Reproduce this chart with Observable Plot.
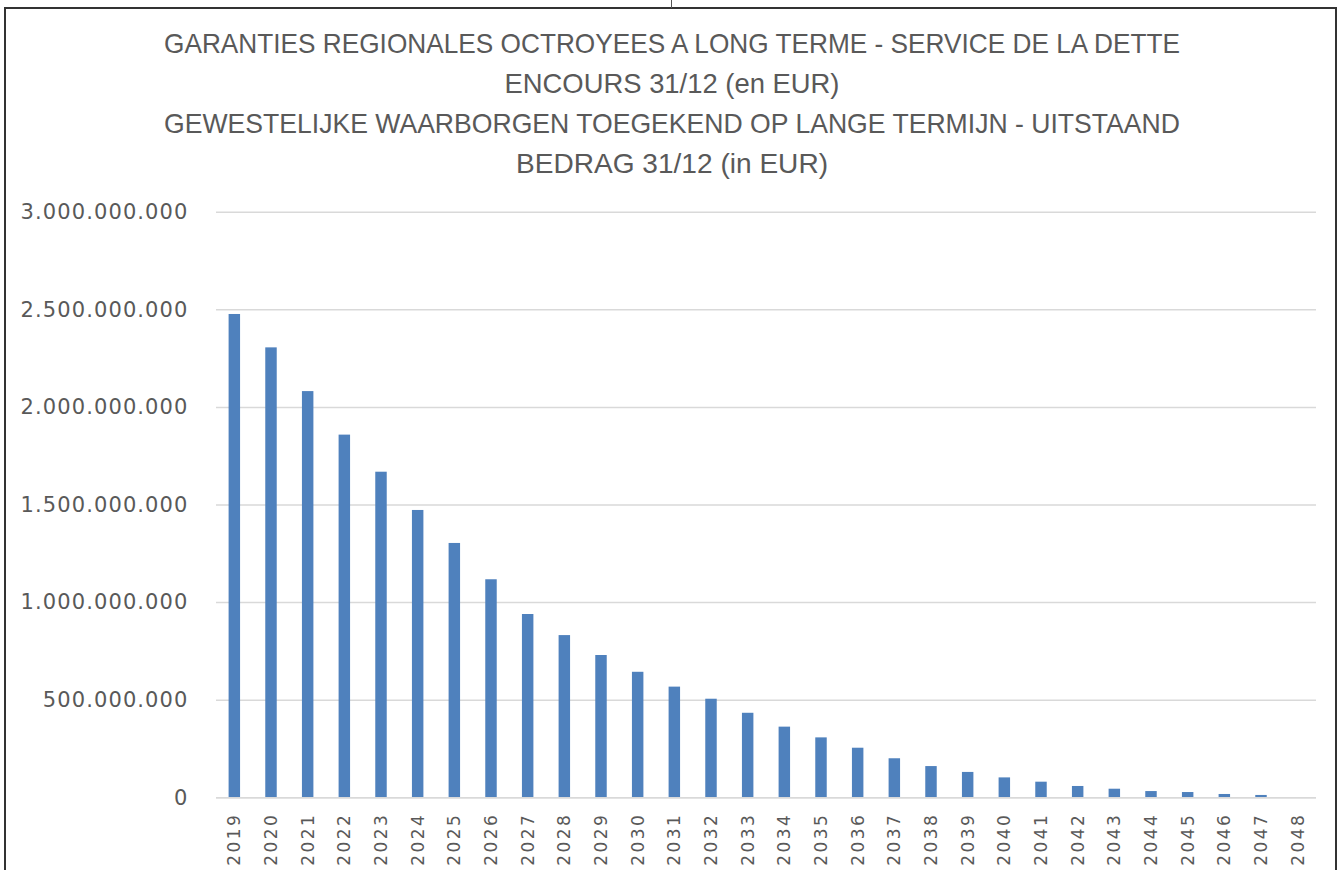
<!DOCTYPE html>
<html>
<head>
<meta charset="utf-8">
<script src="https://cdn.jsdelivr.net/npm/d3@7"></script>
<script src="https://cdn.jsdelivr.net/npm/@observablehq/plot@0.6"></script>
<style>
  html, body { margin: 0; padding: 0; background: #fff; width: 1339px; height: 870px; overflow: hidden; }
  #frame { position: absolute; left: 4px; top: 7px; width: 1333px; height: 900px; border: 2px solid #333; box-sizing: border-box; }
  #tick { position: absolute; left: 671px; top: 0; width: 1px; height: 8px; background: #555; }
  #title { position: absolute; left: 0; top: 0; }
  #chart { position: absolute; left: 0; top: 190px; }
  #chart g[aria-label="y-axis tick label"] text { letter-spacing: 1.1px; }
  #chart g[aria-label="x-axis tick label"] text { letter-spacing: 2.4px; }
</style>
</head>
<body>
<div id="frame"></div>
<div id="tick"></div>
<svg id="title" width="1339" height="190"></svg>
<div id="chart"></div>
<script>
const titleLines = [
  "GARANTIES REGIONALES OCTROYEES A LONG TERME - SERVICE DE LA DETTE",
  "ENCOURS 31/12 (en EUR)",
  "GEWESTELIJKE WAARBORGEN TOEGEKEND OP LANGE TERMIJN - UITSTAAND",
  "BEDRAG 31/12 (in EUR)"
];
const years = ["2019","2020","2021","2022","2023","2024","2025","2026","2027","2028",
  "2029","2030","2031","2032","2033","2034","2035","2036","2037","2038",
  "2039","2040","2041","2042","2043","2044","2045","2046","2047","2048"];
const values = [2476e6, 2305e6, 2081e6, 1858e6, 1668e6, 1472e6, 1303e6, 1117e6, 939e6, 831e6,
  729e6, 643e6, 567e6, 505e6, 433e6, 362e6, 307e6, 254e6, 200e6, 160e6,
  130e6, 102e6, 80e6, 58e6, 44e6, 32e6, 27e6, 17e6, 12e6, 0];
const yTicks = [0, 500e6, 1000e6, 1500e6, 2000e6, 2500e6, 3000e6];

const data = years.map((year, i) => ({year, value: values[i]}));
const fmt = d => d3.format(",")(d).replace(/,/g, ".");

// Title
const tsvg = d3.select("#title");
const lineWidths = [1016, 335, 1016, 312];
titleLines.forEach((t, i) => {
  tsvg.append("text")
    .attr("x", 672)
    .attr("y", 53.3 + i * 40)
    .attr("text-anchor", "middle")
    .attr("fill", "#595959")
    .attr("font-family", "'Liberation Sans Narrow', 'Liberation Sans', Arial, sans-serif")
    .attr("font-size", 27.5)
    .attr("textLength", lineWidths[i])
    .attr("lengthAdjust", "spacingAndGlyphs")
    .text(t);
});

const chart = Plot.plot({
  width: 1339,
  height: 680,
  marginLeft: 216,
  marginRight: 23,
  marginTop: 21.7,
  marginBottom: 72.7,
  style: { fontFamily: "'DejaVu Sans', Verdana, sans-serif", fontSize: "21px", color: "#595959", background: "transparent" },
  x: { type: "band", domain: years, padding: 0, round: false, label: null },
  y: { domain: [0, 3e9], label: null },
  marks: [
    Plot.gridY(yTicks, { stroke: "#d9d9d9", strokeOpacity: 1, strokeWidth: 1.5 }),
    Plot.barY(data, { x: "year", y: "value", fill: "#4f81bd", insetLeft: 12.6, insetRight: 12.6 }),
    Plot.ruleY([0], { stroke: "#d9d9d9", strokeWidth: 1.5 }),
    Plot.axisY({ ticks: yTicks, tickSize: 0, tickPadding: 28, tickFormat: fmt, label: null, fontSize: 21, fill: "#595959" }),
    Plot.axisX({ tickSize: 0, tickPadding: 15, tickRotate: -90, label: null, fontSize: 17, fill: "#595959" })
  ]
});
document.getElementById("chart").appendChild(chart);
</script>
</body>
</html>
